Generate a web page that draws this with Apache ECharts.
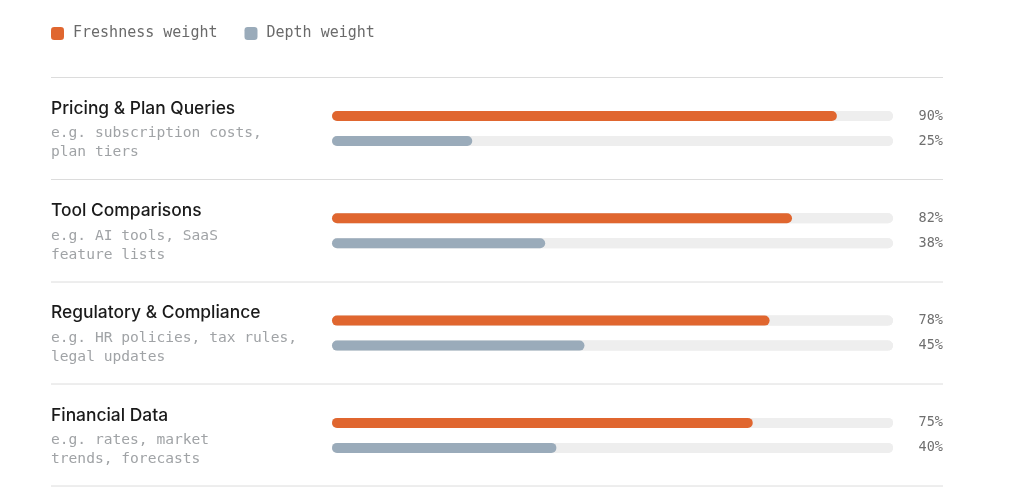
<!DOCTYPE html>
<html>
<head>
<meta charset="utf-8">
<script src="https://cdn.jsdelivr.net/npm/echarts@6/dist/echarts.min.js"></script>
<style>
  html, body { margin: 0; padding: 0; background: #fff; }
  #chart { width: 1024px; height: 497px; }
</style>
</head>
<body>
<div id="chart"></div>
<script>
// categories and their example text
const categories = ['Pricing & Plan Queries', 'Tool Comparisons', 'Regulatory & Compliance', 'Financial Data'];
const examples = [
  'e.g. subscription costs,\nplan tiers',
  'e.g. AI tools, SaaS\nfeature lists',
  'e.g. HR policies, tax rules,\nlegal updates',
  'e.g. rates, market\ntrends, forecasts'
];
const freshness = [90, 82, 78, 75];
const depth = [25, 38, 45, 40];
const seriesNames = ['Freshness weight', 'Depth weight'];
const colors = ['#e0662f', '#9aabba'];

const MONO = '"DejaVu Sans Mono", "Liberation Mono", monospace';
const rowTop = 103.5;   // top of first grid
const rowStep = 102.3;  // distance between rows
const lineYs = [77.5, 179.5, 282, 384, 486];

const chart = echarts.init(document.getElementById('chart'));

const grids = [], xAxes = [], yAxes = [], series = [], titles = [];

categories.forEach((cat, i) => {
  const top = rowTop + rowStep * i;
  grids.push({ left: 332, width: 561, top: top, height: 50 });
  xAxes.push({ gridIndex: i, type: 'value', min: 0, max: 100, show: false });
  yAxes.push({
    gridIndex: i, type: 'category', inverse: true, data: seriesNames,
    axisLine: { show: false }, axisTick: { show: false }, axisLabel: { show: false }
  });
  yAxes.push({
    gridIndex: i, type: 'category', inverse: true, position: 'right',
    data: [freshness[i] + '%', depth[i] + '%'],
    axisLine: { show: false }, axisTick: { show: false },
    axisLabel: { align: 'right', margin: 50, fontFamily: MONO, fontSize: 13.5, color: '#6f6f6f' }
  });
  [freshness, depth].forEach((vals, s) => {
    const d = s === 0 ? [vals[i], '-'] : ['-', vals[i]];
    series.push({
      name: seriesNames[s], type: 'bar', xAxisIndex: i, yAxisIndex: i * 2,
      data: d, barWidth: 10, barGap: '-100%',
      itemStyle: { color: colors[s], borderRadius: 5 },
      showBackground: true,
      backgroundStyle: { color: '#eeeeee', borderRadius: 5 },
      silent: true
    });
  });
  titles.push({
    text: cat, subtext: examples[i], left: 51 - 5, top: top - 8.5,
    itemGap: 7,
    textStyle: { fontFamily: 'Inter, "Noto Sans", sans-serif', fontSize: 17.4, fontWeight: 500, color: '#1a1a1a' },
    subtextStyle: { fontFamily: MONO, fontSize: 14.6, color: '#a0a3a6', lineHeight: 19 }
  });
});

const graphics = lineYs.map(y => ({
  type: 'line', shape: { x1: 51, y1: y, x2: 943, y2: y },
  style: { stroke: '#dcdcdc', lineWidth: 1 }, silent: true
}));

chart.setOption({
  animation: false,
  title: titles,
  legend: {
    data: seriesNames, left: 46, top: 21, itemWidth: 13, itemHeight: 13, itemGap: 27,
    icon: 'roundRect',
    textStyle: { fontFamily: MONO, fontSize: 15, color: '#6a6a6a', padding: [0, 0, 0, 4] }
  },
  grid: grids,
  xAxis: xAxes,
  yAxis: yAxes,
  series: series,
  graphic: graphics
});
</script>
</body>
</html>
